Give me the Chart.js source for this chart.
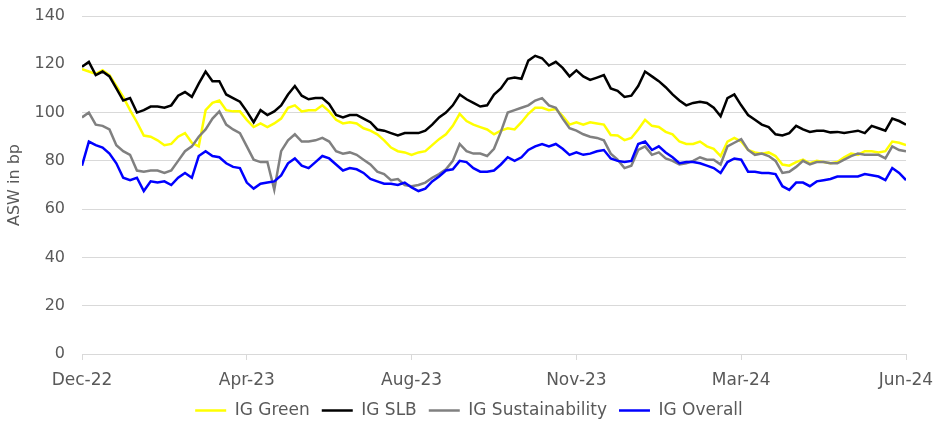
<!DOCTYPE html>
<html lang="en">
<head>
    <meta charset="UTF-8">
    <title>ASW chart</title>
    <style>
        body{
            margin: 0;
            background: #fff;
        }
        .container{
            width: 937px;
            height: 429px;
            position: relative;
        }
    </style>
</head>
<body>
    <div class="container">
        <canvas id="canvas"></canvas>
    </div>

    <script src="https://cdn.jsdelivr.net/npm/chart.js@4.4.0/dist/chart.umd.min.js"></script>
    <script>
        // sample positions along the x axis (roughly every third trading day)
        const categories = [];
        for (let i = 0; i <= 120; i++) categories.push(i);

        const tickLabels = ['Dec-22', 'Apr-23', 'Aug-23', 'Nov-23', 'Mar-24', 'Jun-24'];

        const igGreen = [
            118, 117, 116, 117.5, 115.5, 111, 106.5, 101, 96, 90.5, 90, 88.5, 86.5, 87, 90, 91.5, 87.5, 86, 101, 104,
            105, 101, 100.5, 100.5, 97, 94, 95.5, 94, 95.5, 97.5, 102, 103, 100.5, 101, 101, 103, 100.5, 97, 95.5, 96, 95.5,
            93.5, 92.5, 91, 88.5, 85.5, 84, 83.5, 82.5, 83.5, 84, 86.5, 89, 91, 94.5, 99.5, 96.5, 95, 94, 93, 91,
            92.5, 93.5, 93, 96, 99.5, 102, 102, 101, 101.5, 98.5, 95, 96, 95, 96, 95.5, 95, 90.7, 90.5, 88.6, 89.5, 93,
            97, 94.5, 94, 92, 91, 88, 87, 87, 88, 86, 85, 82, 88, 89.5, 88, 84.5, 83.5, 83, 83.5, 82,
            78.5, 78, 79.5, 80.5, 79, 80, 79.5, 79, 79.5, 81.5, 83, 82.5, 84, 84, 83.5, 84, 88, 87.5, 86.5
        ];
        const igSLB = [
            119, 121, 115.5, 117, 115, 110, 105, 106, 100, 101, 102.5, 102.5, 102, 103, 107, 108.5, 106.5, 112, 117, 113,
            113, 107.5, 106, 104.5, 100.5, 96, 101, 99, 100.5, 103, 107.5, 111, 107, 105.5, 106, 106, 103.5, 99, 98, 99, 99,
            97.5, 96, 93, 92.5, 91.5, 90.5, 91.5, 91.5, 91.5, 92.5, 95, 98, 100, 103, 107.5, 105.5, 104, 102.5, 103, 107.5,
            110, 114, 114.5, 114, 121.5, 123.5, 122.5, 119.5, 121, 118.5, 115, 117.5, 115, 113.5, 114.5, 115.5, 110, 109, 106.5, 107, 111,
            117, 115, 113, 110.5, 107.5, 105, 103, 104, 104.5, 104, 102, 98.5, 106, 107.5, 103, 99, 97, 95, 94, 91,
            90.5, 91.5, 94.5, 93, 92, 92.5, 92.5, 91.8, 92, 91.5, 92, 92.5, 91.5, 94.5, 93.5, 92.5, 97.5, 96.5, 95
        ];
        const igSustainability = [
            98, 100, 95, 94.5, 93, 86.5, 84, 82.5, 76, 75.5, 76, 76, 75, 76, 80, 84, 86, 90, 93, 97.5,
            100.5, 95, 93, 91.5, 86, 80.5, 79.5, 79.5, 68, 84, 88.5, 91, 88, 88, 88.5, 89.5, 88, 84, 83, 83.5, 82.5,
            80.5, 78.5, 75.5, 74.5, 72, 72.5, 70, 69.5, 70, 71, 73, 74.5, 76.5, 80, 87, 84, 83, 83, 82, 85,
            92, 100, 101, 102, 103, 105, 106, 103, 102, 97.5, 93.5, 92.5, 91, 90, 89.5, 88.5, 83, 80.5, 77, 78, 84.5,
            86, 82.5, 83.5, 81, 80, 78.5, 79, 80, 81.5, 80.5, 80.5, 78.5, 86, 87.5, 89, 84.5, 82.5, 83, 82, 80,
            75, 75.5, 77.5, 80, 78.5, 79.5, 79.5, 79, 79, 80.5, 82, 83, 82.5, 82.5, 82.5, 81, 86, 84.5, 84
        ];
        const igOverall = [
            78, 88, 86.5, 85.5, 83, 79, 73, 72, 73, 67.5, 71.5, 71, 71.5, 70, 73, 75, 73, 82, 84, 82,
            81.5, 79, 77.5, 77, 71, 68.5, 70.5, 71, 71.5, 74, 79, 81, 78, 77, 79.5, 82, 81, 78.5, 76, 77, 76.5,
            75, 72.5, 71.5, 70.5, 70.5, 70, 71, 69, 67.5, 68.5, 71.5, 73.5, 76, 76.5, 80, 79.5, 77, 75.5, 75.5, 76,
            78.5, 81.5, 80, 81.5, 84.5, 86, 87, 86, 87, 85, 82.5, 83.5, 82.5, 83, 84, 84.5, 81, 80, 79.5, 80, 87,
            88, 84.5, 86, 83.5, 81.5, 79, 79.5, 79.5, 79, 78, 77, 75, 79.5, 81, 80.5, 75.5, 75.5, 75, 75, 74.5,
            69.5, 68, 71, 71, 69.5, 71.5, 72, 72.5, 73.5, 73.5, 73.5, 73.5, 74.5, 74, 73.5, 72, 77, 75, 72
        ];

        const textColor = '#595959';
        const gridColor = '#d9d9d9';
        const fontFamily = '"DejaVu Sans", sans-serif';

        function line(label, data, color, order) {
            return {
                label: label,
                data: data,
                borderColor: color,
                backgroundColor: color,
                borderWidth: 2.5,
                pointRadius: 0,
                tension: 0,
                order: order
            };
        }

        const ctx = document.getElementById('canvas').getContext('2d');
        const myChart = new Chart(ctx, {
            type: 'line',
            data: {
                labels: categories,
                datasets: [
                    line('IG Green', igGreen, '#ffff00', 4),
                    line('IG SLB', igSLB, '#000000', 3),
                    line('IG Sustainability', igSustainability, '#808080', 2),
                    line('IG Overall', igOverall, '#0000ff', 1)
                ]
            },
            options: {
                responsive: true,
                maintainAspectRatio: false,
                animation: false,
                layout: {
                    padding: { left: 1, right: 0, top: 0, bottom: 0 }
                },
                plugins: {
                    tooltip: { enabled: false },
                    legend: {
                        position: 'bottom',
                        labels: {
                            usePointStyle: true,
                            pointStyle: 'line',
                            pointStyleWidth: 31,
                            color: textColor,
                            padding: 12,
                            font: { family: fontFamily, size: 17 },
                            sort: (a, b) => a.datasetIndex - b.datasetIndex
                        }
                    }
                },
                scales: {
                    x: {
                        type: 'linear',
                        min: 0,
                        max: 120,
                        // fixed axis box so the plot ends where the original does
                        afterFit: (scale) => {
                            scale.height = 36;
                            scale.paddingRight = 31;
                        },
                        ticks: {
                            stepSize: 24,
                            autoSkip: false,
                            maxRotation: 0,
                            color: textColor,
                            padding: 10,
                            font: { family: fontFamily, size: 17 },
                            callback: (v) => tickLabels[v / 24]
                        },
                        grid: {
                            drawOnChartArea: false,
                            drawTicks: true,
                            tickLength: 6,
                            color: gridColor
                        },
                        border: { color: gridColor }
                    },
                    y: {
                        min: 0,
                        max: 140,
                        afterFit: (scale) => {
                            scale.width = 81;
                            scale.paddingTop = 16;
                        },
                        ticks: {
                            stepSize: 20,
                            color: textColor,
                            padding: 17,
                            font: { family: fontFamily, size: 16 }
                        },
                        grid: {
                            color: gridColor,
                            drawTicks: false
                        },
                        border: { display: false },
                        title: {
                            display: true,
                            text: 'ASW in bp',
                            color: textColor,
                            font: { family: fontFamily, size: 16 }
                        }
                    }
                }
            }
        });
    </script>
</body>
</html>
